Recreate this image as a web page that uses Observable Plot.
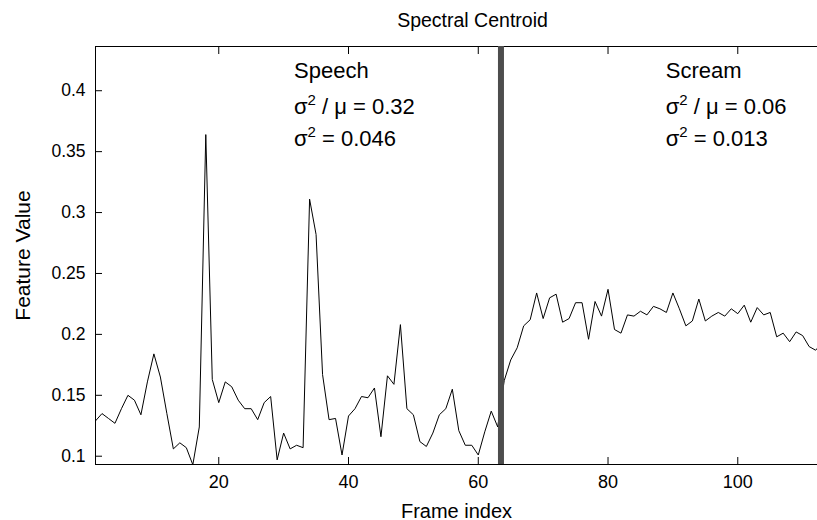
<!DOCTYPE html>
<html><head><meta charset="utf-8">
<script src="https://cdn.jsdelivr.net/npm/d3@7"></script>
<script src="https://cdn.jsdelivr.net/npm/@observablehq/plot@0.6"></script>
<style>body{margin:0;background:#fff;}</style>
</head><body><div id="chart"></div>
<script>
const featureValues = [
  0.129, 0.135, 0.131, 0.127, 0.139, 0.150, 0.146, 0.134, 0.161, 0.184,
  0.165, 0.135, 0.106, 0.111, 0.107, 0.093, 0.124, 0.364, 0.163, 0.144,
  0.161, 0.157, 0.146, 0.139, 0.139, 0.130, 0.144, 0.149, 0.097, 0.119,
  0.106, 0.109, 0.107, 0.311, 0.282, 0.167, 0.130, 0.131, 0.101, 0.133,
  0.139, 0.149, 0.148, 0.156, 0.116, 0.166, 0.159, 0.208, 0.139, 0.134,
  0.112, 0.108, 0.119, 0.134, 0.139, 0.155, 0.121, 0.109, 0.109, 0.101,
  0.120, 0.137, 0.124, 0.162, 0.179, 0.189, 0.207, 0.212, 0.234, 0.213,
  0.230, 0.233, 0.210, 0.213, 0.226, 0.226, 0.196, 0.227, 0.215, 0.237,
  0.204, 0.201, 0.216, 0.215, 0.219, 0.216, 0.223, 0.221, 0.218, 0.234,
  0.221, 0.207, 0.211, 0.229, 0.211, 0.215, 0.218, 0.215, 0.221, 0.217,
  0.224, 0.210, 0.222, 0.216, 0.218, 0.198, 0.201, 0.194, 0.202, 0.199,
  0.190, 0.187, 0.193
];
const xTicks = [20, 40, 60, 80, 100];
const yTicks = [0.1, 0.15, 0.2, 0.25, 0.3, 0.35, 0.4];
const boundaryFrame = [63.5];
const titleText = "Spectral Centroid";
const xLabelText = "Frame index";
const yLabelText = "Feature Value";
const segmentNames = ["Speech", "Scream"];
const ratioLabels = ["σ^2 / μ = 0.32", "σ^2 / μ = 0.06"];
const varianceLabels = ["σ^2 = 0.046", "σ^2 = 0.013"];

const data = featureValues.map((v, i) => ({frame: i + 1, value: v}));
const xDomain = [1, 112.29];
const yDomain = [0.0932, 0.4363];
const annotX = [31.6, 88.9];

const chart = Plot.plot({
  width: 817, height: 520,
  marginLeft: 95, marginRight: 0, marginTop: 46, marginBottom: 56,
  x: {domain: xDomain},
  y: {domain: yDomain},
  style: {fontFamily: "'Liberation Sans', Arial, Helvetica, sans-serif", fontSize: "17.5px", color: "#000", background: "#fff", overflow: "hidden"},
  marks: [
    Plot.axisX({anchor: "bottom", ticks: xTicks, tickSize: -7, tickPadding: 18, label: null, fontSize: 18}),
    Plot.axisX({anchor: "top", ticks: xTicks, tickSize: -7, tickFormat: () => "", label: null}),
    Plot.axisY({anchor: "left", ticks: yTicks, tickSize: -7, tickPadding: 17, tickFormat: d3.format("~g"), label: null, fontSize: 17.5}),
    Plot.ruleY([yDomain[0], yDomain[1]], {stroke: "#000", strokeWidth: 1}),
    Plot.ruleX([xDomain[0]], {stroke: "#000", strokeWidth: 1}),
    Plot.line(data, {x: "frame", y: "value", stroke: "#000", strokeWidth: 1, clip: true}),
    Plot.ruleX(boundaryFrame, {stroke: "#4d4d4d", strokeWidth: 6}),
    Plot.text(segmentNames, {x: annotX, y: 0.4108, text: d => d, textAnchor: "start", lineAnchor: "bottom", fontSize: 22}),
    Plot.text(ratioLabels, {x: annotX, y: 0.3813, text: d => d, textAnchor: "start", lineAnchor: "bottom", fontSize: 22}),
    Plot.text(varianceLabels, {x: annotX, y: 0.3550, text: d => d, textAnchor: "start", lineAnchor: "bottom", fontSize: 22}),
    Plot.text([titleText], {frameAnchor: "top", textAnchor: "middle", dx: 16, dy: -20, lineAnchor: "bottom", fontSize: 19.5}),
    Plot.text([xLabelText], {frameAnchor: "bottom", textAnchor: "middle", dx: 0, dy: 53, lineAnchor: "bottom", fontSize: 20}),
    Plot.text([yLabelText], {frameAnchor: "left", textAnchor: "middle", dx: -66, rotate: -90, lineAnchor: "bottom", fontSize: 21})
  ]
});

// render the "^2" markers as real superscripts
const NS = "http://www.w3.org/2000/svg";
chart.querySelectorAll("text").forEach(t => {
  const s = t.textContent;
  if (!s.includes("^2")) return;
  const [a, b] = s.split("^2");
  t.textContent = "";
  const t1 = document.createElementNS(NS, "tspan"); t1.textContent = a;
  const t2 = document.createElementNS(NS, "tspan"); t2.textContent = "2";
  t2.setAttribute("font-size", "15"); t2.setAttribute("dy", "-9");
  const t3 = document.createElementNS(NS, "tspan"); t3.textContent = b;
  t3.setAttribute("dy", "9");
  t.append(t1, t2, t3);
});
document.getElementById("chart").append(chart);
</script>
</body></html>
